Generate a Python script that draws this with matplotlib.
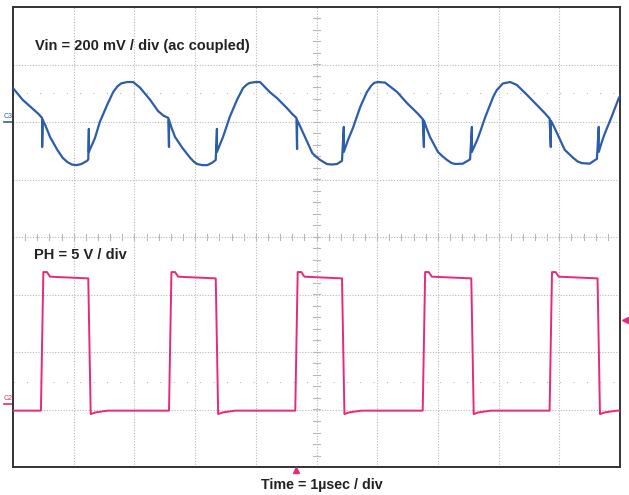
import matplotlib
matplotlib.use("Agg")
import matplotlib.pyplot as plt
import numpy as np

# Vin ripple (ac coupled): time in usec, value in mV relative to the C3 marker
vin_t = [-5.00, -4.84, -4.67, -4.58, -4.53, -4.52, -4.52, -4.51,
         -4.47, -4.39, -4.27, -4.18, -4.10, -4.03, -3.95, -3.87, -3.78, -3.76,
         -3.75, -3.75,
         -3.70, -3.65, -3.57, -3.45, -3.35, -3.28, -3.22, -3.12, -3.02, -2.91,
         -2.82, -2.74, -2.61, -2.52, -2.44, -2.43, -2.43,
         -2.38, -2.33, -2.21, -2.08, -2.02, -1.97, -1.88, -1.80, -1.72, -1.66,
         -1.64, -1.64,
         -1.59, -1.54, -1.43, -1.31, -1.21, -1.15, -1.10, -1.00, -0.93, -0.88,
         -0.77, -0.65, -0.49, -0.40, -0.33, -0.32, -0.32,
         -0.27, -0.22, -0.14, -0.07, 0.00, 0.06, 0.17, 0.25, 0.34, 0.42,
         0.45, 0.45,
         0.52, 0.60, 0.72, 0.83, 0.90, 0.95, 1.01, 1.13, 1.22, 1.33,
         1.49, 1.66, 1.75, 1.77, 1.77,
         1.82, 1.87, 2.00, 2.08, 2.15, 2.22, 2.28, 2.41, 2.53,
         2.56, 2.56,
         2.61, 2.66, 2.78, 2.91, 2.97, 3.07, 3.19, 3.30, 3.47, 3.63,
         3.76, 3.84, 3.86, 3.86,
         3.91, 3.96, 4.09, 4.23, 4.30, 4.37, 4.50, 4.62,
         4.65, 4.65,
         4.70, 4.74, 4.86, 4.98, 5.00]
vin_mv = [118, 77, 45, 28, 16, 14, -87, 7,
          -10, -52, -97, -125, -140, -148, -150, -146, -135, -130,
          -24, -104,
          -80, -56, 0, 59, 104, 124, 134, 139, 139, 120,
          97, 77, 38, 22, 14, -87, 7,
          -25, -52, -90, -125, -138, -146, -150, -150, -142, -132,
          -24, -104,
          -78, -52, 17, 77, 118, 130, 136, 139, 139, 128,
          104, 83, 49, 28, 14, -94, 7,
          -15, -38, -75, -108, -122, -132, -146, -148, -146, -135,
          -17, -104,
          -62, -21, 52, 104, 126, 136, 139, 137, 122, 104,
          66, 31, 10, -87, 5,
          -25, -52, -104, -120, -132, -142, -146, -145, -130,
          -17, -104,
          -80, -56, 17, 87, 111, 134, 139, 129, 94, 59,
          31, 12, -87, 5,
          -15, -38, -97, -125, -137, -143, -145, -128,
          -17, -104,
          -70, -45, 17, 83, 90]

# PH switch node: edge times in usec, levels in V relative to the C2 marker
ph_rise = [-4.52, -2.41, -0.33, 1.77, 3.86]
ph_fall = [-3.74, -1.64, 0.44, 2.57, 4.65]
ph_high_peak = 11.45
ph_high = 11.05
ph_high_end = 10.9
ph_low = -0.6
ph_low_dip = -0.9

vin_scale = 200.0  # mV / div
ph_scale = 5.0     # V / div
c3_ref = 2.0       # div
c2_ref = -2.9      # div

blue = "#2c5daa"
pink = "#e8297b"
grid_col = "#b8b8b8"

fig = plt.figure(figsize=(6.29, 4.95), dpi=100)
ax = fig.add_axes([13 / 629, 1 - 467 / 495, 607 / 629, 460 / 495])
ax.set_xlim(-5, 5)
ax.set_ylim(-4, 4)
ax.set_xticks([])
ax.set_yticks([])
for s in ax.spines.values():
    s.set_color("#333333")
    s.set_linewidth(1.4)

# graticule
for gx in range(-4, 5):
    ax.axvline(gx, color=grid_col, lw=0.8, ls=(0, (1, 1.5)), zorder=1)
for gy in range(-3, 4):
    ax.axhline(gy, color=grid_col, lw=0.8, ls=(0, (1, 1.5)), zorder=1)
for gy in (2.5, -2.52):
    ax.axhline(gy, color=grid_col, lw=0.8, ls=(0, (1, 11)), zorder=1)
for tx in np.arange(-5, 5.01, 0.2):
    ax.plot([tx, tx], [-0.05, 0.05], color=grid_col, lw=0.8, zorder=1)
for ty in np.arange(-4, 4.01, 0.2):
    ax.plot([-0.05, 0.05], [ty, ty], color=grid_col, lw=0.8, zorder=1)

# Vin trace
ax.plot(vin_t, c3_ref + np.array(vin_mv) / vin_scale, color=blue, lw=1.6, zorder=3)

# PH trace
pt, pv = [-5.0], [ph_low]
for r, f in zip(ph_rise, ph_fall):
    pt += [r - 0.02, r + 0.02, r + 0.08, r + 0.13, f - 0.02, f + 0.02, f + 0.1, f + 0.3]
    pv += [ph_low, ph_high_peak, ph_high_peak, ph_high, ph_high_end, ph_low_dip, -0.75, ph_low]
pt.append(5.0)
pv.append(ph_low)
ax.plot(pt, c2_ref + np.array(pv) / ph_scale, color=pink, lw=1.4, zorder=3)

# channel markers
ax.plot([-5.15, -5.0], [c3_ref, c3_ref], color=blue, lw=1.2, clip_on=False)
ax.text(-5.15, c3_ref + 0.03, "C3", color=blue, fontsize=5, ha="left", va="bottom",
        family="Liberation Sans")
ax.plot([-5.15, -5.0], [c2_ref, c2_ref], color=pink, lw=1.2, clip_on=False)
ax.text(-5.15, c2_ref + 0.03, "C2", color=pink, fontsize=5, ha="left", va="bottom",
        family="Liberation Sans")
ax.plot([-0.33], [-4.05], marker="^", color=pink, ms=5, clip_on=False, zorder=5)
ax.plot([5.08], [-1.45], marker="<", color=pink, ms=5, clip_on=False, zorder=5)

ax.text(-4.64, 3.33, "Vin = 200 mV / div (ac coupled)", fontsize=10.5, fontweight="bold",
        family="Liberation Sans", color="#222222", va="center", ha="left")
ax.text(-4.66, -0.31, "PH = 5 V / div", fontsize=10.5, fontweight="bold",
        family="Liberation Sans", color="#222222", va="center", ha="left")
fig.text(322 / 629, 1 - 485 / 495, "Time = 1\u00b5sec / div", fontsize=10.3, fontweight="bold",
         family="Liberation Sans", color="#222222", va="center", ha="center")

fig.savefig("out.png", dpi=100)
